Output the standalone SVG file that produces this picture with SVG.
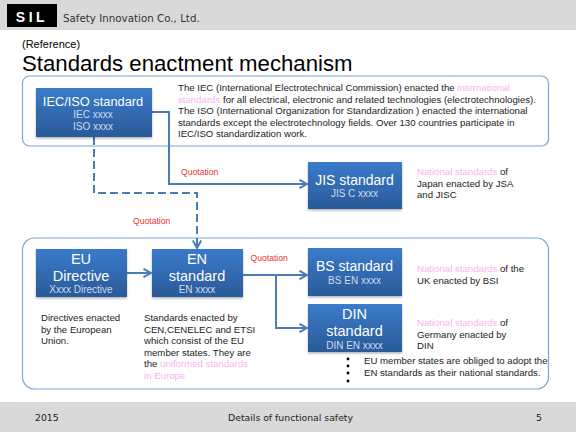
<svg xmlns="http://www.w3.org/2000/svg" width="576" height="432" viewBox="0 0 576 432">
<defs>
<linearGradient id="blue" x1="0" y1="0" x2="0" y2="1"><stop offset="0" stop-color="#3a7bcb"/><stop offset="1" stop-color="#2a5a98"/></linearGradient>
<filter id="sh" x="-5%" y="-5%" width="110%" height="115%"><feDropShadow dx="0" dy="1.5" stdDeviation="1" flood-color="#000" flood-opacity="0.3"/></filter>
<marker id="arr" viewBox="0 0 10 10" refX="9" refY="5" markerWidth="10" markerHeight="10" markerUnits="userSpaceOnUse" orient="auto"><path d="M1.500 0.800 L9 5 L1.500 9.200" fill="none" stroke="#4a7cb8" stroke-width="2"/></marker>
</defs>
<style>
text{font-family:"Liberation Sans",Arial,sans-serif}
.box{fill:url(#blue);filter:url(#sh)}
.panel{fill:#fff;stroke:#7fa3d6;stroke-width:1.2}
.h{font-size:14px;fill:#fff;text-anchor:middle}
.h2{font-size:14.5px;fill:#fff;text-anchor:middle}
.s{font-size:10px;fill:#cfdcf0;text-anchor:middle}
.t{font-size:9.65px;fill:#222}
.p{fill:#f9b4f0}
.q{font-size:8.6px;fill:#f03030}
.c{fill:none;stroke:#4a7cb8;stroke-width:2}
.f{font-family:"DejaVu Sans",sans-serif;font-size:9.3px;fill:#222}
</style>
<rect width="576" height="432" fill="#fff"/>
<g id="header">
<rect width="576" height="30" fill="#d9d9d9"/>
<rect x="7" y="4" width="50" height="23" fill="#000"/>
<text x="32" y="21.500" font-size="14" font-weight="bold" fill="#fff" text-anchor="middle" letter-spacing="3.500">SIL</text>
<text x="63" y="22" font-size="10.300" fill="#333" style="font-family:'DejaVu Sans',sans-serif">Safety Innovation Co., Ltd.</text>
</g>
<text x="22" y="48" font-size="11" fill="#000">(Reference)</text>
<text x="22" y="71" font-size="22.200" fill="#000">Standards enactment mechanism</text>
<rect id="panel-top" class="panel" x="22.500" y="76" width="526" height="70" rx="7"/>
<rect id="panel-bottom" class="panel" x="22.500" y="238" width="526" height="151" rx="12"/>
<g id="connectors">
<path class="c" d="M152 112 H169 V184 H307" marker-end="url(#arr)"/>
<path class="c" d="M94 137 V193 H197 V248" stroke-dasharray="8 4" marker-end="url(#arr)"/>
<path class="c" d="M127 273 H151" marker-end="url(#arr)"/>
<path class="c" d="M243 275 H307" marker-end="url(#arr)"/>
<path class="c" d="M276 275 V328 H307" marker-end="url(#arr)"/>
</g>
<g id="iec"><rect class="box" x="36" y="88" width="116" height="49"/>
<text class="h" style="font-size:12.800px" x="93" y="106">IEC/ISO standard</text><text class="s" x="93" y="118">IEC xxxx</text><text class="s" x="93" y="130">ISO xxxx</text></g>
<g id="jis"><rect class="box" x="308" y="162" width="94" height="47"/>
<text class="h" x="354.500" y="185">JIS standard</text><text class="s" x="354.500" y="197">JIS C xxxx</text></g>
<g id="eu"><rect class="box" x="36" y="249" width="91" height="48"/>
<text class="h2" x="81" y="264">EU</text><text class="h2" x="81" y="281">Directive</text><text class="s" x="81" y="293">Xxxx Directive</text></g>
<g id="en"><rect class="box" x="152" y="249" width="91" height="48"/>
<text class="h2" x="197" y="264">EN</text><text class="h2" x="197" y="281">standard</text><text class="s" x="197" y="293">EN xxxx</text></g>
<g id="bs"><rect class="box" x="308" y="248" width="94" height="48"/>
<text class="h" x="354.500" y="271">BS standard</text><text class="s" x="354.500" y="284">BS EN xxxx</text></g>
<g id="din"><rect class="box" x="308" y="304" width="94" height="48"/>
<text class="h2" x="354.500" y="319">DIN</text><text class="h2" x="354.500" y="336">standard</text><text class="s" x="354.500" y="349">DIN EN xxxx</text></g>
<g id="texts">
<text class="t" x="178" y="91">The IEC (International Electrotechnical Commission) enacted the <tspan class="p">international</tspan></text>
<text class="t" x="178" y="102.500"><tspan class="p">standards</tspan> for all electrical, electronic and related technologies (electrotechnologies).</text>
<text class="t" x="178" y="114">The ISO (International Organization for Standardization ) enacted the international</text>
<text class="t" x="178" y="125.500">standards except the electrotechnology fields. Over 130 countries participate in</text>
<text class="t" x="178" y="137">IEC/ISO standardization work.</text>
<text class="t" x="417" y="175"><tspan class="p">National standards</tspan> of</text>
<text class="t" x="417" y="186.500">Japan enacted by JSA</text>
<text class="t" x="417" y="198">and JISC</text>
<text class="t" x="417" y="272"><tspan class="p">National standards</tspan> of the</text>
<text class="t" x="417" y="283.500">UK enacted by BSI</text>
<text class="t" x="417" y="326"><tspan class="p">National standards</tspan> of</text>
<text class="t" x="417" y="338">Germany enacted by</text>
<text class="t" x="417" y="349">DIN</text>
<text class="t" x="41" y="321">Directives enacted</text>
<text class="t" x="41" y="332.500">by the European</text>
<text class="t" x="41" y="344">Union.</text>
<text class="t" x="144" y="321">Standards enacted by</text>
<text class="t" x="144" y="332.500">CEN,CENELEC and ETSI</text>
<text class="t" x="144" y="344">which consist of the EU</text>
<text class="t" x="144" y="355.500">member states. They are</text>
<text class="t" x="144" y="367">the <tspan class="p">uniformed standards</tspan></text>
<text class="t" x="144" y="379"><tspan class="p">in Europe</tspan></text>
<text class="t" x="364" y="364">EU member states are obliged to adopt the</text>
<text class="t" x="364" y="376">EN standards as their national standards.</text>
<text class="q" x="181" y="175">Quotation</text>
<text class="q" x="133" y="224">Quotation</text>
<text class="q" x="250.500" y="261">Quotation</text>
</g>
<g id="dots" fill="#000"><circle cx="348" cy="359" r="1.400"/><circle cx="348" cy="366" r="1.400"/><circle cx="348" cy="373" r="1.400"/><circle cx="348" cy="381" r="1.400"/></g>
<g id="footer"><rect y="402" width="576" height="30" fill="#d9d9d9"/>
<text class="f" x="35" y="421">2015</text><text class="f" x="290.500" y="421" text-anchor="middle">Details of functional safety</text><text class="f" x="536" y="421">5</text></g>
</svg>
